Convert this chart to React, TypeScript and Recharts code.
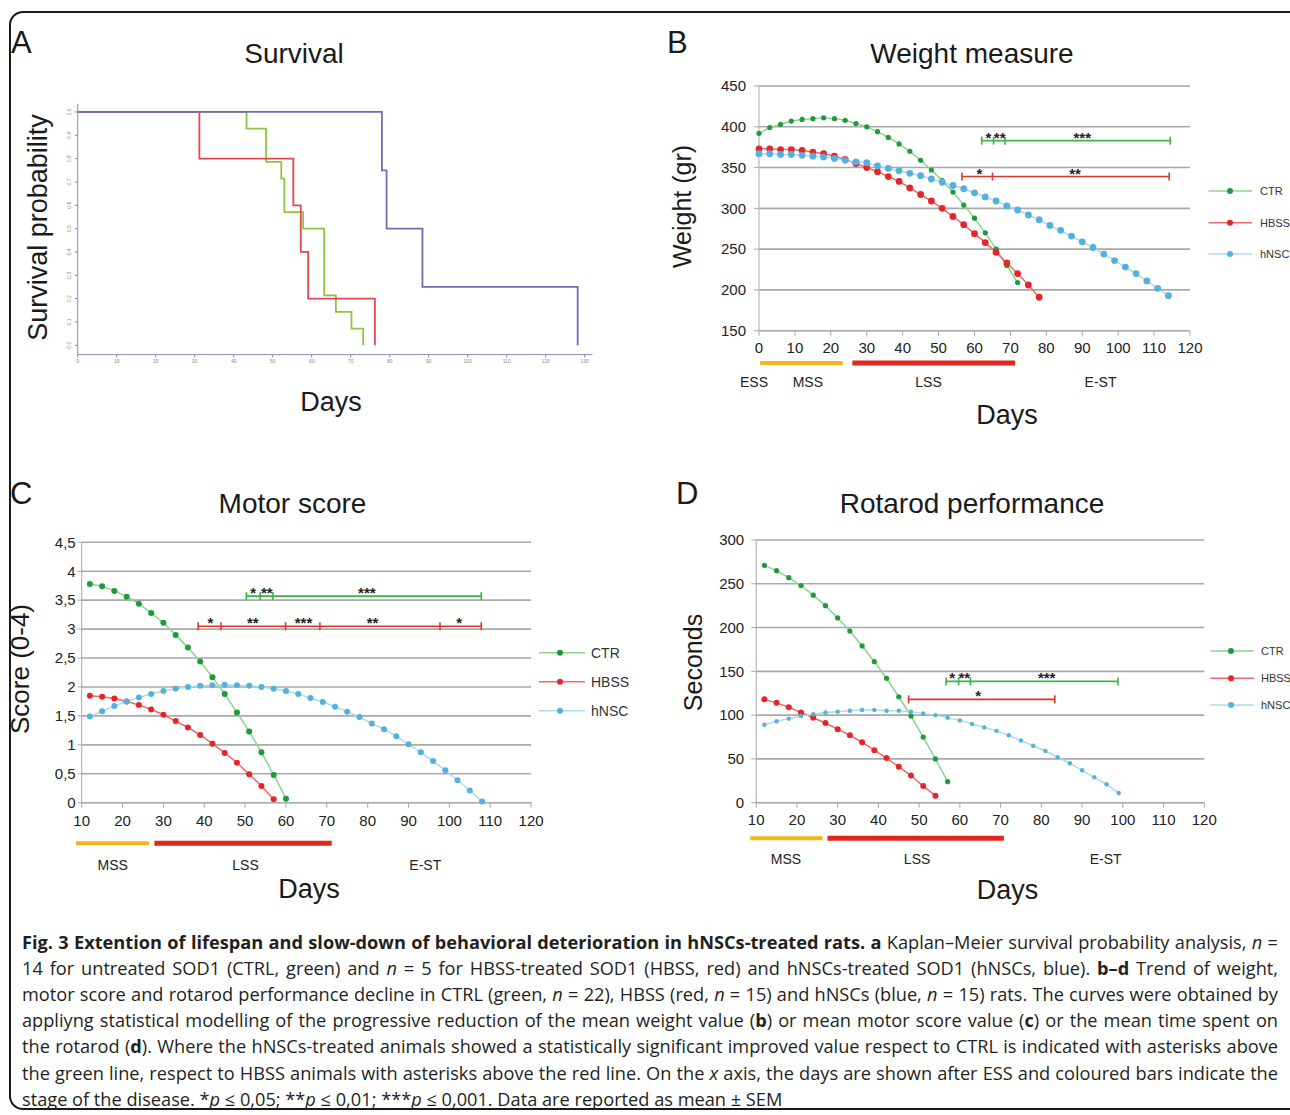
import React from 'react';
import { ComposedChart, Line, XAxis, YAxis, CartesianGrid, Scatter, ReferenceLine, ReferenceDot } from 'recharts';

const SANS = '"Liberation Sans", Arial, Helvetica, sans-serif';
const CAPTION_FONT = '"Open Sans", "Noto Sans", sans-serif';

// ---------- Panel A : survival (Kaplan–Meier steps: day of drop, new level) ----------
const survCTRDays = [0, 43.3, 48.3, 52.2, 53.0, 57.8, 63.2, 66.2, 70.2, 73.2];
const survCTRVals = [1, 0.929, 0.786, 0.714, 0.571, 0.5, 0.214, 0.143, 0.071, 0];
const survHBSSDays = [0, 31.2, 55.3, 57.2, 59.1, 76.2];
const survHBSSVals = [1, 0.8, 0.6, 0.4, 0.2, 0];
const survHNSCDays = [0, 78.0, 79.2, 88.4, 128.2];
const survHNSCVals = [1, 0.75, 0.5, 0.25, 0];
const survTicksX = [0, 10, 20, 30, 40, 50, 60, 70, 80, 90, 100, 110, 120, 130];
const survTicksY = [0, 0.1, 0.2, 0.3, 0.4, 0.5, 0.6, 0.7, 0.8, 0.9, 1.0];

// ---------- Panel B : weight ----------
const daysB = [0, 3, 6, 9, 12, 15, 18, 21, 24, 27, 30, 33, 36, 39, 42, 45, 48, 51, 54, 57, 60, 63, 66, 69, 72, 75, 78, 81, 84, 87, 90, 93, 96, 99, 102, 105, 108, 111, 114];
const weightCTR = [392, 399, 403, 407, 409, 410, 411, 410, 408, 404, 400, 394, 387, 379, 370, 359, 347, 334, 320, 304, 288, 270, 250, 230, 209];
const weightHBSS = [373, 373, 372, 372, 371, 369, 367, 364, 360, 355, 350, 345, 339, 333, 325, 317, 309, 300, 290, 280, 269, 258, 246, 233, 220, 206, 191];
const weightHNSC = [367, 367, 366, 366, 365, 364, 363, 361, 359, 357, 356, 352, 349, 346, 343, 340, 336, 332, 328, 324, 319, 314, 309, 303, 298, 292, 286, 279, 273, 266, 259, 252, 244, 236, 228, 220, 211, 202, 193];
const weightTicksY = [150, 200, 250, 300, 350, 400, 450];
const weightTicksX = [0, 10, 20, 30, 40, 50, 60, 70, 80, 90, 100, 110, 120];
const sigB_CTR_Ticks = [62, 65.3, 68.5, 114.5];
const sigB_CTR_Level = 383;
const sigB_CTR_StarX = [63.9, 67, 90];
const sigB_CTR_Stars = ['*', '**', '***'];
const sigB_HBSS_Ticks = [56.5, 65, 114.2];
const sigB_HBSS_Level = 339;
const sigB_HBSS_StarX = [61.4, 88];
const sigB_HBSS_Stars = ['*', '**'];

// ---------- Panel C : motor score ----------
const daysCD = [12, 15, 18, 21, 24, 27, 30, 33, 36, 39, 42, 45, 48, 51, 54, 57, 60, 63, 66, 69, 72, 75, 78, 81, 84, 87, 90, 93, 96, 99, 102, 105, 108];
const motorCTR = [3.78, 3.74, 3.66, 3.56, 3.44, 3.28, 3.11, 2.9, 2.68, 2.44, 2.17, 1.88, 1.56, 1.23, 0.87, 0.48, 0.07];
const motorHBSS = [1.85, 1.83, 1.8, 1.75, 1.69, 1.61, 1.52, 1.41, 1.3, 1.17, 1.02, 0.86, 0.69, 0.49, 0.29, 0.06];
const motorHNSC = [1.49, 1.58, 1.67, 1.75, 1.82, 1.88, 1.93, 1.97, 2.0, 2.02, 2.03, 2.04, 2.03, 2.02, 2.0, 1.97, 1.93, 1.88, 1.81, 1.74, 1.66, 1.57, 1.48, 1.37, 1.27, 1.15, 1.01, 0.87, 0.72, 0.56, 0.39, 0.21, 0.02];
const motorTicksY = [0, 0.5, 1, 1.5, 2, 2.5, 3, 3.5, 4, 4.5];
const cdTicksX = [10, 20, 30, 40, 50, 60, 70, 80, 90, 100, 110, 120];
const sigC_CTR_Ticks = [50.3, 53.7, 56.8, 107.8];
const sigC_CTR_Level = 3.57;
const sigC_CTR_StarX = [52, 55.3, 79.8];
const sigC_CTR_Stars = ['*', '**', '***'];
const sigC_HBSS_Ticks = [38.5, 44.1, 59.9, 68.3, 97.7, 107.8];
const sigC_HBSS_Level = 3.05;
const sigC_HBSS_StarX = [41.5, 51.9, 64.3, 81.2, 102.4];
const sigC_HBSS_Stars = ['*', '**', '***', '**', '*'];

// ---------- Panel D : rotarod ----------
const rotaCTR = [271, 265, 257, 248, 237, 225, 211, 196, 179, 161, 142, 121, 99, 75, 50, 24];
const rotaHBSS = [118, 114, 109, 103, 97, 91, 84, 77, 69, 60, 51, 41, 31, 19, 8];
const rotaHNSC = [89, 93, 96, 99, 101, 103, 104, 105, 106, 106, 105, 105, 104, 102, 100, 97, 94, 90, 86, 82, 77, 71, 65, 59, 52, 45, 37, 29, 21, 11];
const rotaTicksY = [0, 50, 100, 150, 200, 250, 300];
const sigD_CTR_Ticks = [56.6, 59.7, 62.6, 98.8];
const sigD_CTR_Level = 138.5;
const sigD_CTR_StarX = [58.1, 61.1, 81.3];
const sigD_CTR_Stars = ['*', '**', '***'];
const sigD_HBSS_Ticks = [47.4, 83.3];
const sigD_HBSS_Level = 118;
const sigD_HBSS_StarX = [64.5];
const sigD_HBSS_Stars = ['*'];

// ---------- disease stages (start day, end day) and label positions ----------
const stagesB = [[0.3, 23.3], [26, 71.3]];
const stageLabelsB = ['ESS', 'MSS', 'LSS', 'E-ST'];
const stageLabelXB = [-1.4, 13.6, 47.2, 95.1];
const stagesC = [[8.6, 26.5], [27.8, 71.2]];
const stageLabelsCD = ['MSS', 'LSS', 'E-ST'];
const stageLabelXC = [17.6, 50.1, 94.1];
const stagesD = [[8.5, 26.3], [27.5, 70.8]];
const stageLabelXD = [17.3, 49.5, 95.8];

const legendLabels = ['CTR', 'HBSS', 'hNSC'];

// ---------- colours ----------
const C_GREEN_DOT = '#1e9a3c';
const C_GREEN_LINE = '#8ad68c';
const C_RED_DOT = '#e3262a';
const C_RED_LINE = '#ef6a6a';
const C_BLUE_DOT = '#55b0de';
const C_BLUE_LINE = '#a9dbf0';
const C_GRID = '#a9a9a9';
const C_SIG_GREEN = '#3cb34a';
const C_SIG_RED = '#e0352f';
const C_ORANGE = '#f6b619';
const C_STAGE_RED = '#e0281e';
const AX_A = '#8c8cae';

const pts = (xs: number[], ys: number[]) => ys.map((y, i) => ({ x: xs[i], y }));
const comma = (v: number) => String(v).replace('.', ',');

function series(key: string, data: any[], line: string, dot: string, r: number) {
  return (
    <Line key={key} data={data} dataKey="y" type="linear" stroke={line} strokeWidth={1.5}
      dot={{ r, fill: dot, stroke: dot, strokeWidth: 0 }} activeDot={false} isAnimationActive={false} />
  );
}

function sigBar(key: string, ticks: number[], level: number, color: string) {
  const data = ticks.map((x) => ({ x, y: level }));
  return (
    <Line key={key} data={data} dataKey="y" type="linear" stroke={color} strokeWidth={1.6} activeDot={false}
      isAnimationActive={false}
      dot={(p: any) => (
        <line key={`${key}-t${p.index}`} x1={p.cx} x2={p.cx} y1={p.cy - 4} y2={p.cy + 4} stroke={color} strokeWidth={1.6} />
      )} />
  );
}

function stars(key: string, xs: number[], labels: string[], level: number) {
  const data = xs.map((x, i) => ({ x, y: level, t: labels[i] }));
  return (
    <Scatter key={key} data={data} dataKey="y" isAnimationActive={false}
      shape={(p: any) => (
        <text x={p.cx} y={p.cy + 2} textAnchor="middle" fontSize={15} fontWeight="bold" fontFamily={SANS} fill="#222">{p.payload.t}</text>
      )} />
  );
}

function stageBars(key: string, stages: number[][], level: number) {
  return stages.map((s, i) => (
    <ReferenceLine key={`${key}-${i}`} segment={[{ x: s[0], y: level }, { x: s[1], y: level }]} ifOverflow="visible"
      stroke={i === 0 ? C_ORANGE : C_STAGE_RED} strokeWidth={i === 0 ? 4 : 5} />
  ));
}

function stageLabels(key: string, names: string[], xs: number[], level: number) {
  return names.map((n, i) => (
    <ReferenceDot key={`${key}-${i}`} x={xs[i]} y={level} r={0} ifOverflow="visible"
      shape={(p: any) => (
        <text x={p.cx} y={p.cy} dy="0.35em" textAnchor="middle" fontSize={14} fontFamily={SANS} fill="#222">{n}</text>
      )} />
  ));
}

const SurvYTick = (p: any) => {
  const x = p.x - 2;
  return (
    <text x={x} y={p.y} transform={`rotate(-90 ${x} ${p.y})`} textAnchor="middle" fontSize={5} fontFamily={SANS} fill="#888">
      {Number(p.payload.value).toFixed(1)}
    </text>
  );
};

function SurvivalChart() {
  return (
    <ComposedChart width={640} height={460} margin={{ top: 103.8, right: 47.5, bottom: 85.4, left: 47.7 }}>
      <XAxis type="number" dataKey="x" domain={[0, 132]} ticks={survTicksX} tick={{ fontSize: 5, fill: '#888', fontFamily: SANS }}
        tickSize={3} tickMargin={2} stroke={AX_A} height={20} />
      <YAxis type="number" domain={[-0.04, 1.035]} ticks={survTicksY} tick={SurvYTick} tickSize={3} stroke={AX_A} width={30} />
      <Line data={pts(survCTRDays, survCTRVals)} dataKey="y" type="stepAfter" stroke="#8cc640" strokeWidth={1.8} dot={false} activeDot={false} isAnimationActive={false} />
      <Line data={pts(survHBSSDays, survHBSSVals)} dataKey="y" type="stepAfter" stroke="#e64652" strokeWidth={1.8} dot={false} activeDot={false} isAnimationActive={false} />
      <Line data={pts(survHNSCDays, survHNSCVals)} dataKey="y" type="stepAfter" stroke="#6e6cb6" strokeWidth={1.8} dot={false} activeDot={false} isAnimationActive={false} />
    </ComposedChart>
  );
}

function WeightChart() {
  return (
    <ComposedChart width={650} height={460} margin={{ top: 86, right: 100, bottom: 89.3, left: 69 }}>
      <CartesianGrid vertical={false} stroke={C_GRID} strokeWidth={1.6} />
      <XAxis type="number" dataKey="x" domain={[0, 120]} ticks={weightTicksX} tick={{ fontSize: 15, fill: '#222', fontFamily: SANS }}
        tickSize={5} tickMargin={7} stroke={C_GRID} height={40} />
      <YAxis type="number" domain={[150, 450]} ticks={weightTicksY} tick={{ fontSize: 15, fill: '#222', fontFamily: SANS }}
        tickSize={5} tickMargin={8} stroke={C_GRID} width={50} />
      {stageBars('sb', stagesB, 110.5)}
      {stageLabels('sl', stageLabelsB, stageLabelXB, 87.5)}
      {series('ctr', pts(daysB, weightCTR), C_GREEN_LINE, C_GREEN_DOT, 2.6)}
      {series('hbss', pts(daysB, weightHBSS), C_RED_LINE, C_RED_DOT, 3.4)}
      {series('hnsc', pts(daysB, weightHNSC), C_BLUE_LINE, C_BLUE_DOT, 3.4)}
      {sigBar('bg', sigB_CTR_Ticks, sigB_CTR_Level, C_SIG_GREEN)}
      {sigBar('br', sigB_HBSS_Ticks, sigB_HBSS_Level, C_SIG_RED)}
      {stars('bgs', sigB_CTR_StarX, sigB_CTR_Stars, sigB_CTR_Level)}
      {stars('brs', sigB_HBSS_StarX, sigB_HBSS_Stars, sigB_HBSS_Level)}
    </ComposedChart>
  );
}

function MotorChart() {
  return (
    <ComposedChart width={640} height={460} margin={{ top: 82.3, right: 108.9, bottom: 77.3, left: 31.7 }}>
      <CartesianGrid vertical={false} stroke={C_GRID} strokeWidth={1.6} />
      <XAxis type="number" dataKey="x" domain={[10, 120]} ticks={cdTicksX} tick={{ fontSize: 15, fill: '#222', fontFamily: SANS }}
        tickSize={5} tickMargin={8} stroke={C_GRID} height={40} />
      <YAxis type="number" domain={[0, 4.5]} ticks={motorTicksY} tickFormatter={comma} tick={{ fontSize: 15, fill: '#222', fontFamily: SANS }}
        tickSize={4} tickMargin={2} stroke={C_GRID} width={50} />
      {stageBars('sb', stagesC, -0.7)}
      {stageLabels('sl', stageLabelsCD, stageLabelXC, -1.077)}
      {series('ctr', pts(daysCD, motorCTR), C_GREEN_LINE, C_GREEN_DOT, 3)}
      {series('hbss', pts(daysCD, motorHBSS), C_RED_LINE, C_RED_DOT, 3)}
      {series('hnsc', pts(daysCD, motorHNSC), C_BLUE_LINE, C_BLUE_DOT, 3)}
      {sigBar('cg', sigC_CTR_Ticks, sigC_CTR_Level, C_SIG_GREEN)}
      {sigBar('cr', sigC_HBSS_Ticks, sigC_HBSS_Level, C_SIG_RED)}
      {stars('cgs', sigC_CTR_StarX, sigC_CTR_Stars, sigC_CTR_Level)}
      {stars('crs', sigC_HBSS_StarX, sigC_HBSS_Stars, sigC_HBSS_Level)}
    </ComposedChart>
  );
}

function RotarodChart() {
  return (
    <ComposedChart width={650} height={460} margin={{ top: 80, right: 85.7, bottom: 77.3, left: 66.2 }}>
      <CartesianGrid vertical={false} stroke={C_GRID} strokeWidth={1.6} />
      <XAxis type="number" dataKey="x" domain={[10, 120]} ticks={cdTicksX} tick={{ fontSize: 15, fill: '#222', fontFamily: SANS }}
        tickSize={5} tickMargin={7} stroke={C_GRID} height={40} />
      <YAxis type="number" domain={[0, 300]} ticks={rotaTicksY} tick={{ fontSize: 15, fill: '#222', fontFamily: SANS }}
        tickSize={5} tickMargin={7} stroke={C_GRID} width={50} />
      {stageBars('sb', stagesD, -40.7)}
      {stageLabels('sl', stageLabelsCD, stageLabelXD, -64.6)}
      {series('ctr', pts(daysCD, rotaCTR), C_GREEN_LINE, C_GREEN_DOT, 2.6)}
      {series('hbss', pts(daysCD, rotaHBSS), C_RED_LINE, C_RED_DOT, 3)}
      {series('hnsc', pts(daysCD, rotaHNSC), C_BLUE_LINE, C_BLUE_DOT, 2.2)}
      {sigBar('dg', sigD_CTR_Ticks, sigD_CTR_Level, C_SIG_GREEN)}
      {sigBar('dr', sigD_HBSS_Ticks, sigD_HBSS_Level, C_SIG_RED)}
      {stars('dgs', sigD_CTR_StarX, sigD_CTR_Stars, sigD_CTR_Level)}
      {stars('drs', sigD_HBSS_StarX, sigD_HBSS_Stars, sigD_HBSS_Level)}
    </ComposedChart>
  );
}

const legendLine = [C_GREEN_LINE, C_RED_LINE, C_BLUE_LINE];
const legendDot = [C_GREEN_DOT, C_RED_DOT, C_BLUE_DOT];

function LegendSvg({ x1, x2, cx, tx, ys, fs }: { x1: number; x2: number; cx: number; tx: number; ys: number[]; fs: number }) {
  return (
    <g>
      {legendLabels.map((l, i) => (
        <g key={l}>
          <line x1={x1} x2={x2} y1={ys[i]} y2={ys[i]} stroke={legendLine[i]} strokeWidth={1.5} />
          <circle cx={cx} cy={ys[i]} r={3} fill={legendDot[i]} />
          <text x={tx} y={ys[i]} dy="0.35em" fontSize={fs} fontFamily={SANS} fill="#333">{l}</text>
        </g>
      ))}
    </g>
  );
}

function Overlay() {
  const t = { fontFamily: SANS, fill: '#1a1a1a' } as const;
  return (
    <svg width={1290} height={1115} style={{ position: 'absolute', left: 0, top: 0, pointerEvents: 'none' }}>
      <text x={11} y={52.5} fontSize={31} {...t}>A</text>
      <text x={667} y={52.5} fontSize={31} {...t}>B</text>
      <text x={10} y={503.5} fontSize={31} {...t}>C</text>
      <text x={676} y={503.5} fontSize={31} {...t}>D</text>

      <text x={294} y={63} fontSize={28} textAnchor="middle" {...t}>Survival</text>
      <text x={972} y={63} fontSize={28} textAnchor="middle" {...t}>Weight measure</text>
      <text x={292.5} y={513} fontSize={28} textAnchor="middle" {...t}>Motor score</text>
      <text x={972} y={513} fontSize={28} textAnchor="middle" {...t}>Rotarod performance</text>

      <text x={47} y={227.5} fontSize={27} textAnchor="middle" transform="rotate(-90 47 227.5)" {...t}>Survival probability</text>
      <text x={691} y={206.5} fontSize={25} textAnchor="middle" transform="rotate(-90 691 206.5)" {...t}>Weight (gr)</text>
      <text x={29} y={669} fontSize={26} textAnchor="middle" transform="rotate(-90 29 669)" {...t}>Score (0-4)</text>
      <text x={702} y={662.5} fontSize={25} textAnchor="middle" transform="rotate(-90 702 662.5)" {...t}>Seconds</text>

      <text x={331} y={411} fontSize={27} textAnchor="middle" {...t}>Days</text>
      <text x={1007} y={424} fontSize={27} textAnchor="middle" {...t}>Days</text>
      <text x={309} y={898} fontSize={27} textAnchor="middle" {...t}>Days</text>
      <text x={1007.5} y={899} fontSize={27} textAnchor="middle" {...t}>Days</text>

      <LegendSvg x1={1208.5} x2={1252} cx={1230} tx={1260} ys={[191, 222.7, 254]} fs={11} />
      <LegendSvg x1={539} x2={585} cx={560} tx={591} ys={[652.7, 681.7, 710.7]} fs={14} />
      <LegendSvg x1={1210.5} x2={1254} cx={1231} tx={1261} ys={[651, 678.3, 705]} fs={11} />
    </svg>
  );
}

const lineStyle = (i: number, last: boolean): React.CSSProperties => ({
  position: 'absolute', left: 22, width: 1256, top: 929 + i * 26.1, height: 26, lineHeight: '26px',
  fontSize: 18.2, fontFamily: CAPTION_FONT, color: '#231f20', textAlign: last ? 'left' : 'justify',
  textAlignLast: last ? 'left' : 'justify', whiteSpace: 'nowrap',
});

function Caption() {
  return (
    <div>
      <div style={lineStyle(0, false)}><b>Fig. 3 Extention of lifespan and slow-down of behavioral deterioration in hNSCs-treated rats. a</b> Kaplan–Meier survival probability analysis, <i>n</i> =</div>
      <div style={lineStyle(1, false)}>14 for untreated SOD1 (CTRL, green) and <i>n</i> = 5 for HBSS-treated SOD1 (HBSS, red) and hNSCs-treated SOD1 (hNSCs, blue). <b>b–d</b> Trend of weight,</div>
      <div style={lineStyle(2, false)}>motor score and rotarod performance decline in CTRL (green, <i>n</i> = 22), HBSS (red, <i>n</i> = 15) and hNSCs (blue, <i>n</i> = 15) rats. The curves were obtained by</div>
      <div style={lineStyle(3, false)}>appliyng statistical modelling of the progressive reduction of the mean weight value (<b>b</b>) or mean motor score value (<b>c</b>) or the mean time spent on</div>
      <div style={lineStyle(4, false)}>the rotarod (<b>d</b>). Where the hNSCs-treated animals showed a statistically significant improved value respect to CTRL is indicated with asterisks above</div>
      <div style={lineStyle(5, false)}>the green line, respect to HBSS animals with asterisks above the red line. On the <i>x</i> axis, the days are shown after ESS and coloured bars indicate the</div>
      <div style={lineStyle(6, true)}>stage of the disease. *<i>p</i> ≤ 0,05; **<i>p</i> ≤ 0,01; ***<i>p</i> ≤ 0,001. Data are reported as mean ± SEM</div>
    </div>
  );
}

export default function App() {
  return (
    <div style={{ position: 'absolute', left: 0, top: 0, width: 1290, height: 1115, overflow: 'hidden', background: '#fff' }}>
      <div style={{ position: 'absolute', left: 9, top: 11, width: 1310, height: 1099, border: '2px solid #1a1a1a', borderRadius: 14, boxSizing: 'border-box' }} />
      <div style={{ position: 'absolute', left: 0, top: 0 }}><SurvivalChart /></div>
      <div style={{ position: 'absolute', left: 640, top: 0 }}><WeightChart /></div>
      <div style={{ position: 'absolute', left: 0, top: 460 }}><MotorChart /></div>
      <div style={{ position: 'absolute', left: 640, top: 460 }}><RotarodChart /></div>
      <Overlay />
      <Caption />
    </div>
  );
}
